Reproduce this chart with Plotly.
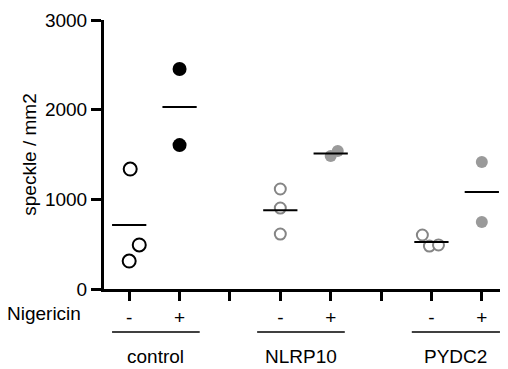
import numpy as np
import plotly.graph_objects as go

# ---- data ----
tick_labels = ["-", "+", "", "-", "+", "", "-", "+"]
groups = ["control", "NLRP10", "PYDC2"]
control_minus = [1338, 491, 312]
control_plus = [2453, 1605]
nlrp10_minus = [1115, 903, 613]
nlrp10_plus = [1483, 1538]
pydc2_minus = [602, 479, 491]
pydc2_plus = [1416, 747]

# ---- layout / style ----
positions = [1, 2, 4, 5, 7, 8]
jitter = [[0.02, 0.2, 0.0], [0, 0], [0, 0, 0], [0, 0.14], [-0.18, -0.04, 0.14], [0, 0]]
series = [control_minus, control_plus, nlrp10_minus, nlrp10_plus, pydc2_minus, pydc2_plus]
styles = [
    dict(size=13, color="white", line=dict(color="black", width=2)),
    dict(size=14, color="black", line=dict(color="black", width=0)),
    dict(size=11, color="white", line=dict(color="#858585", width=2)),
    dict(size=12, color="#9a9a9a", line=dict(width=0)),
    dict(size=11, color="white", line=dict(color="#858585", width=2)),
    dict(size=12, color="#9a9a9a", line=dict(width=0)),
]

FONT = "Liberation Sans, Arial, sans-serif"
FS = 19
fig = go.Figure()
for pos, jit, vals, st in zip(positions, jitter, series, styles):
    fig.add_trace(go.Scatter(
        x=[pos + j for j in jit], y=vals, mode="markers",
        marker=dict(symbol="circle", **st), showlegend=False, cliponaxis=False))
for pos, vals in zip(positions, series):
    m = float(np.mean(vals))
    fig.add_trace(go.Scatter(
        x=[pos - 0.34, pos + 0.34], y=[m, m], mode="lines",
        line=dict(color="black", width=2), showlegend=False))

shapes = []
annotations = []
group_spans = [(0.66, 2.40), (3.54, 5.28), (6.61, 8.36)]
for (a, b), name in zip(group_spans, groups):
    shapes.append(dict(type="line", xref="x", yref="paper", x0=a, x1=b,
                       y0=-0.160, y1=-0.160, line=dict(color="black", width=1.5)))
    annotations.append(dict(x=(a + b) / 2, y=-0.296, xref="x", yref="paper",
                            text=name, showarrow=False, xanchor="center", yanchor="bottom",
                            font=dict(size=FS, color="black", family=FONT)))
annotations.append(dict(x=-0.051, y=-0.090, xref="paper", yref="paper", text="Nigericin",
                        showarrow=False, xanchor="right", yanchor="middle",
                        font=dict(size=FS, color="black", family=FONT)))

# page body has an 8px margin: figure is 500x361 placed at (8, 8)
fig.update_layout(
    width=500, height=361,
    margin=dict(l=96, r=1, t=12, b=80),
    paper_bgcolor="white", plot_bgcolor="white",
    font=dict(family=FONT, size=FS, color="black"),
    shapes=shapes, annotations=annotations,
    xaxis=dict(range=[0.5, 8.5], tickvals=list(range(1, 9)), ticktext=tick_labels,
               showline=True, linewidth=3, linecolor="black", ticks="outside",
               ticklen=9, tickwidth=3, tickcolor="black", showgrid=False, zeroline=False,
               tickfont=dict(size=FS), ticklabelstandoff=0),
    yaxis=dict(range=[0, 3000], tickvals=[0, 1000, 2000, 3000],
               showline=True, linewidth=3, linecolor="black", ticks="outside",
               ticklen=10, tickwidth=3, tickcolor="black", showgrid=False, zeroline=False,
               tickfont=dict(size=FS), ticklabelstandoff=0,
               title=dict(text="speckle / mm2", font=dict(size=FS), standoff=4)),
)
fig.write_html("out.html")
